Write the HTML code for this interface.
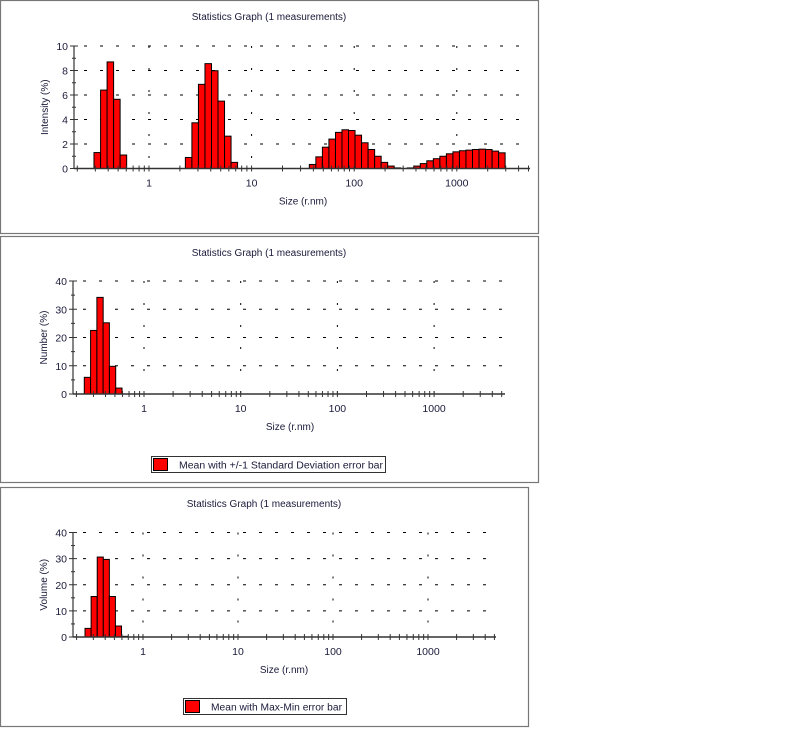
<!DOCTYPE html>
<html><head><meta charset="utf-8">
<style>
body{margin:0;background:#fff;width:800px;height:749px;overflow:hidden;font-family:"Liberation Sans",Arial,sans-serif;}
svg text{font-family:"Liberation Sans",Arial,sans-serif;fill:#1a1a3a;}
</style></head>
<body>
<svg id="root" width="800" height="749"></svg>
<script>
// ---- Chart 1: Intensity ----
const intSizes = [0.313,0.363,0.420,0.486,0.563,
 2.434,2.818,3.263,3.778,4.373,5.063,5.861,6.786,
 39.3,45.5,52.7,61.0,70.7,81.8,94.7,109.6,126.9,147.0,170.2,197.0,228.0,264.0,
 353.9,409.7,474.2,549.0,635.6,735.9,851.9,986.3,1141.8,1321.9,1530.4,1771.8,2051,2375,2749];
const intValues = [1.3,6.4,8.7,5.65,1.1,
 0.9,3.73,6.87,8.56,7.98,5.5,2.64,0.5,
 0.33,0.95,1.74,2.4,2.95,3.16,3.1,2.72,2.1,1.55,1.0,0.5,0.2,0.05,
 0.05,0.2,0.4,0.63,0.8,1.0,1.2,1.36,1.45,1.5,1.55,1.58,1.55,1.42,1.28];
const intTicks = [0,2,4,6,8,10];
// ---- Chart 2: Number ----
const numSizes = [0.260,0.302,0.351,0.407,0.473,0.550];
const numValues = [5.9,22.5,34.2,25.2,9.8,2.1];
const numTicks = [0,10,20,30,40];
// ---- Chart 3: Volume ----
const volSizes = [0.264,0.306,0.355,0.411,0.476,0.552,0.640];
const volValues = [3.3,15.5,30.6,29.7,15.5,4.2,0.25];
const volTicks = [0,10,20,30,40];
const xLabels = [1,10,100,1000];

const NS="http://www.w3.org/2000/svg";
const root=document.getElementById('root');
function mk(tag,attrs,parent){const e=document.createElementNS(NS,tag);for(const k in attrs)e.setAttribute(k,attrs[k]);(parent||root).appendChild(e);return e;}

function drawChart(cfg){
  const g=mk('g',{});
  
  
  const p=mk('rect',{x:cfg.panel[0]+0.5,y:cfg.panel[1]+0.5,width:cfg.panel[2],height:cfg.panel[3],fill:'#fff',stroke:'#777','stroke-width':1.2},g);
  
  
  const {x0,x1,xOne,dec,y0,yTop,yMax}=cfg;
  const xs=v=>xOne+Math.log10(v)*dec;
  const ys=v=>y0-(v/yMax)*(y0-yTop);
  const t=mk('text',{x:(cfg.panel[0]*2+cfg.panel[2])/2,y:cfg.titleY,'font-size':10,'text-anchor':'middle'},g);
  t.textContent='Statistics Graph (1 measurements)';
  
  
  const grid=mk('g',{stroke:'#000','stroke-width':1,'stroke-dasharray':'3,13'},g);
  
  
  cfg.ticks.forEach(v=>{if(v>0)mk('line',{x1:x0+10,x2:x1,y1:ys(v),y2:ys(v)},grid);});
  xLabels.forEach(v=>mk('line',{x1:xs(v),x2:xs(v),y1:yTop,y2:y0,'stroke-dasharray':'2,20'},grid));
  const bw=cfg.binDec*dec;
  cfg.sizes.forEach((s,i)=>{
    const v=cfg.values[i];
    const b=mk('rect',{x:xs(s)-bw/2,y:ys(v),width:bw,height:y0-ys(v),fill:'#ff0000',stroke:'#000','stroke-width':1},g);
    
    
  });
  const ax=mk('g',{stroke:'#333','stroke-width':1},g);
  
  
  mk('line',{x1:x0,x2:x1,y1:y0,y2:y0,'stroke-width':1.5},ax);
  mk('line',{x1:x0,x2:x0,y1:yTop,y2:y0,'stroke-width':1.2},ax);
  const step=cfg.ticks[1]-cfg.ticks[0];
  cfg.ticks.forEach(v=>{
    mk('line',{x1:x0-4,x2:x0+4,y1:ys(v),y2:ys(v)},ax);
    if(v<yMax) mk('line',{x1:x0-2,x2:x0+2,y1:ys(v+step/2),y2:ys(v+step/2)},ax);
    const tl=mk('text',{x:x0-6,y:ys(v)+4,'font-size':10.5,'text-anchor':'end',stroke:'none'},g);
    tl.textContent=v;
    
    
  });
  for(let d=-1;d<=3;d++){for(let m=1;m<=9;m++){const v=m*Math.pow(10,d);const px=xs(v);if(px>x0&&px<=x1){mk('line',{x1:px,x2:px,y1:y0-3,y2:y0+3},ax);}}}
  xLabels.forEach(v=>{
    const tl=mk('text',{x:xs(v),y:y0+18,'font-size':10.5,'text-anchor':'middle'},g);
    tl.textContent=v;
    
    
  });
  const xt=mk('text',{x:cfg.xTitleX,y:y0+36,'font-size':10,'text-anchor':'middle'},g);
  xt.textContent='Size (r.nm)';
  
  
  const yt=mk('text',{x:0,y:0,'font-size':10,'text-anchor':'middle',transform:`translate(${x0-26},${(y0+yTop)/2}) rotate(-90)`},g);
  yt.textContent=cfg.yTitle;
  
  
  if(cfg.legend){
    const L=cfg.legend;
    const lg=mk('g',{},g);
    
    
    mk('rect',{x:L.x+0.5,y:L.y+0.5,width:L.w,height:16,fill:'#fff',stroke:'#333','stroke-width':1},lg);
    mk('rect',{x:L.x+2.5,y:L.y+2.5,width:14,height:12,fill:'#ff0000',stroke:'#000','stroke-width':1},lg);
    const lt=mk('text',{x:L.x+28,y:L.y+12.5,'font-size':10,textLength:L.tl,lengthAdjust:'spacingAndGlyphs'},lg);
    lt.textContent=L.text;
    
    
  }
}

drawChart({name:'intensity-chart',panel:[0,0,538,233],titleY:20,x0:74,x1:530,xOne:149,dec:102.6,y0:168.5,yTop:46,yMax:10,
  ticks:intTicks,sizes:intSizes,values:intValues,binDec:0.0636,yTitle:'Intensity (%)',xTitleX:303});
drawChart({name:'number-chart',panel:[0,236,538,246],titleY:256,x0:73,x1:505,xOne:144,dec:96.7,y0:394,yTop:281,yMax:40,
  ticks:numTicks,sizes:numSizes,values:numValues,binDec:0.065,yTitle:'Number (%)',xTitleX:290,
  legend:{x:151,y:456,w:234,tl:204,text:'Mean with +/-1 Standard Deviation error bar'}});
drawChart({name:'volume-chart',panel:[0,487,528,239],titleY:507,x0:73,x1:496,xOne:143,dec:95,y0:637,yTop:532.5,yMax:40,
  ticks:volTicks,sizes:volSizes,values:volValues,binDec:0.064,yTitle:'Volume (%)',xTitleX:284,
  legend:{x:183,y:698,w:163,tl:131,text:'Mean with Max-Min error bar'}});
</script>
</body></html>
